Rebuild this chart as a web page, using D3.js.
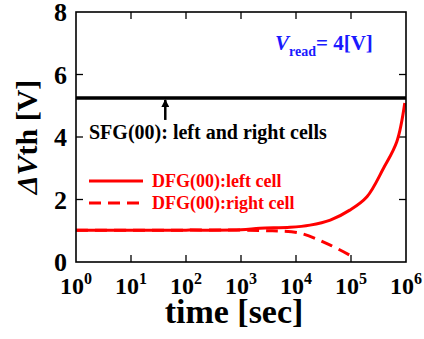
<!DOCTYPE html>
<html>
<head>
<meta charset="utf-8">
<script src="https://cdn.jsdelivr.net/npm/d3@7"></script>
<style>
  body { margin: 0; background: #fff; }
</style>
</head>
<body>
<div id="chart"></div>
<script>
// time in seconds, dVth in volts
const xTicks = [1e0, 1e1, 1e2, 1e3, 1e4, 1e5, 1e6];
const yTicks = [0, 2, 4, 6, 8];

const sfgTime = [1e0, 1e6];
const sfgVth = [5.25, 5.25];

const leftTime = [1e0, 1e1, 1e2, 1e3, 2.2e3, 7.8e3, 1.8e4, 4.2e4, 9.5e4, 1.95e5, 3.9e5, 6.8e5, 9.5e5];
const leftVth = [1.02, 1.02, 1.02, 1.03, 1.08, 1.11, 1.18, 1.34, 1.66, 2.09, 3.0, 3.85, 5.09];

const rightTime = [1e0, 1e1, 1e2, 1e3, 3.2e3, 5e3, 1.2e4, 4.2e4, 9.5e4];
const rightVth = [1.02, 1.02, 1.02, 1.02, 1.0, 0.99, 0.92, 0.54, 0.22];

const FONT = "Liberation Serif";

const W = 424, H = 339;
const margin = { top: 12, right: 18, bottom: 77, left: 76 };
const width = W - margin.left - margin.right;
const height = H - margin.top - margin.bottom;

const svg = d3.select("#chart").append("svg")
  .attr("width", W)
  .attr("height", H)
  .attr("font-family", FONT)
  .attr("font-weight", "bold");

const g = svg.append("g")
  .attr("transform", `translate(${margin.left},${margin.top})`);

const x = d3.scaleLog().domain([1, 1e6]).range([0, width]);
const y = d3.scaleLinear().domain([0, 8]).range([height, 0]);

const tickLen = 7;

// inward ticks on all four sides
g.selectAll(".xt-b").data(xTicks.slice(1, -1)).join("line")
  .attr("x1", d => x(d)).attr("x2", d => x(d))
  .attr("y1", height).attr("y2", height - tickLen)
  .attr("stroke", "#000").attr("stroke-width", 1.3);
g.selectAll(".xt-t").data(xTicks.slice(1, -1)).join("line")
  .attr("x1", d => x(d)).attr("x2", d => x(d))
  .attr("y1", 0).attr("y2", tickLen)
  .attr("stroke", "#000").attr("stroke-width", 1.3);
g.selectAll(".yt-l").data(yTicks.slice(1, -1)).join("line")
  .attr("x1", 0).attr("x2", tickLen)
  .attr("y1", d => y(d)).attr("y2", d => y(d))
  .attr("stroke", "#000").attr("stroke-width", 1.3);
g.selectAll(".yt-r").data(yTicks.slice(1, -1)).join("line")
  .attr("x1", width).attr("x2", width - tickLen)
  .attr("y1", d => y(d)).attr("y2", d => y(d))
  .attr("stroke", "#000").attr("stroke-width", 1.3);

// tick labels
g.selectAll(".yl").data(yTicks).join("text")
  .attr("x", -9)
  .attr("y", d => y(d) + 9)
  .attr("text-anchor", "end")
  .attr("font-size", 26)
  .text(d => d);

const xl = g.selectAll(".xl").data(xTicks).join("text")
  .attr("x", d => x(d))
  .attr("y", height + 32)
  .attr("text-anchor", "middle")
  .attr("font-size", 24);
xl.append("tspan").text("10");
xl.append("tspan")
  .attr("dy", -10)
  .attr("font-size", 16)
  .text(d => Math.round(Math.log10(d)));

// lines
const line = d3.line()
  .x(d => x(d[0]))
  .y(d => y(d[1]))
  .curve(d3.curveCatmullRom.alpha(0.5));

g.append("path")
  .datum(d3.zip(rightTime, rightVth))
  .attr("fill", "none")
  .attr("stroke", "#ff0000")
  .attr("stroke-width", 3)
  .attr("stroke-dasharray", "12,7")
  .attr("d", line);

g.append("path")
  .datum(d3.zip(leftTime, leftVth))
  .attr("fill", "none")
  .attr("stroke", "#ff0000")
  .attr("stroke-width", 3)
  .attr("d", line);

g.append("path")
  .datum(d3.zip(sfgTime, sfgVth))
  .attr("fill", "none")
  .attr("stroke", "#000")
  .attr("stroke-width", 3.5)
  .attr("d", line);

// frame
g.append("rect")
  .attr("width", width).attr("height", height)
  .attr("fill", "none").attr("stroke", "#000").attr("stroke-width", 1.6);

// arrow to the SFG line
svg.append("defs").append("marker")
  .attr("id", "ah")
  .attr("viewBox", "0 0 10 10")
  .attr("refX", 9).attr("refY", 5)
  .attr("markerWidth", 3.2).attr("markerHeight", 3.2)
  .attr("orient", "auto")
  .append("path").attr("d", "M0,0 L10,5 L0,10 z").attr("fill", "#000");

const arrowX = x(4.2e1);
g.append("line")
  .attr("x1", arrowX).attr("x2", arrowX)
  .attr("y1", y(5.25) + 22).attr("y2", y(5.25) + 2)
  .attr("stroke", "#000").attr("stroke-width", 2.5)
  .attr("marker-end", "url(#ah)");

g.append("text")
  .attr("x", 13).attr("y", 127)
  .attr("font-size", 20)
  .text("SFG(00): left and right cells");

// legend
const legend = g.append("g").attr("transform", "translate(13,169)");
legend.append("line")
  .attr("x1", 0).attr("x2", 54).attr("y1", 0).attr("y2", 0)
  .attr("stroke", "#ff0000").attr("stroke-width", 3);
legend.append("text")
  .attr("x", 63).attr("y", 6)
  .attr("fill", "#ff0000")
  .attr("font-size", 18)
  .text("DFG(00):left cell");
legend.append("line")
  .attr("x1", 0).attr("x2", 54).attr("y1", 22).attr("y2", 22)
  .attr("stroke", "#ff0000").attr("stroke-width", 3)
  .attr("stroke-dasharray", "12,7");
legend.append("text")
  .attr("x", 63).attr("y", 28)
  .attr("fill", "#ff0000")
  .attr("font-size", 18)
  .text("DFG(00):right cell");

// Vread annotation
const vr = g.append("text")
  .attr("x", 199).attr("y", 38)
  .attr("fill", "#1a1aff")
  .attr("font-size", 21);
vr.append("tspan").attr("font-style", "italic").text("V");
vr.append("tspan").attr("dy", 6).attr("font-size", 14).text("read");
vr.append("tspan").attr("dy", -6).text("= 4[V]");

// axis titles
svg.append("text")
  .attr("x", margin.left + x(1e3) - 7)
  .attr("y", 323)
  .attr("text-anchor", "middle")
  .attr("font-size", 34)
  .text("time [sec]");

const yt = svg.append("text")
  .attr("transform", "translate(37,137) rotate(-90)")
  .attr("text-anchor", "middle")
  .attr("font-size", 30);
yt.append("tspan").attr("font-style", "italic").text("ΔV");
yt.append("tspan").text("th [V]");
</script>
</body>
</html>
